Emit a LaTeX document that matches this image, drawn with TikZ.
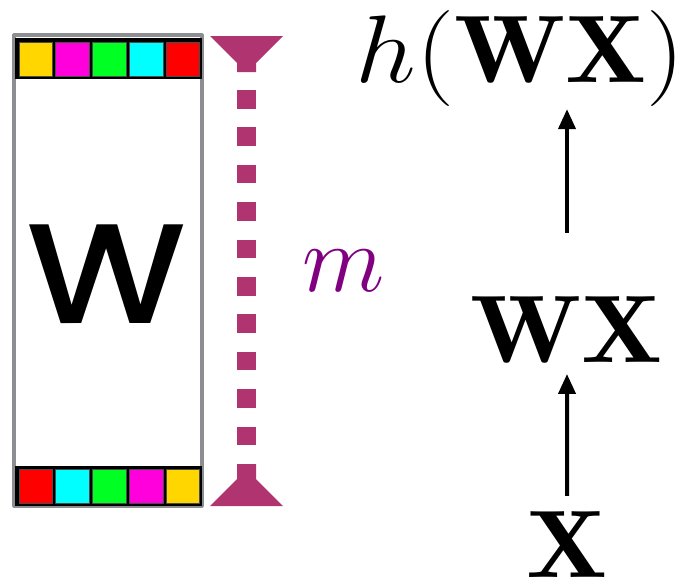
\RequirePackage{fix-cm}
\documentclass[tikz,border=0pt]{standalone}
\usepackage{fontspec}
\usetikzlibrary{arrows.meta}
\newfontfamily\wfont{Poppins Medium}
\begin{document}
\begin{tikzpicture}[x=1pt,y=-1pt,line join=round]
	\definecolor{boxgrey}{RGB}{140,142,146}
	\definecolor{dimpink}{RGB}{176,52,112}
	\definecolor{mpurple}{RGB}{128,0,128}
	\definecolor{cellyellow}{RGB}{255,214,0}
	\definecolor{cellmagenta}{RGB}{255,0,221}
	\definecolor{cellgreen}{RGB}{0,255,34}
	\definecolor{cellcyan}{RGB}{0,255,255}
	\definecolor{cellred}{RGB}{255,0,0}
	\tikzset{
		cell/.style={draw=black!70,line width=.8},
		lbl/.style={inner sep=0,anchor=base,font=\fontsize{96}{96}\selectfont},
		wide/.style={lbl,xscale=1.12},
		up/.style={line width=4,-{Triangle[width=17,length=20]}}
	}
	\useasboundingbox (0,0) rectangle (684,584);
	
	% the matrix W
	\draw[boxgrey,line width=3.2] (14,35) rectangle (202,506);
	\fill (15,38) rectangle (202,79);
	\fill (15,466) rectangle (202,506);
	\foreach \c [count=\i from 0] in {cellyellow,cellmagenta,cellgreen,cellcyan,cellred}{
		\path[fill=\c,cell] (19+36.8*\i,42) rectangle ++(33.5,34);
	}
	\foreach \c [count=\i from 0] in {cellred,cellcyan,cellgreen,cellmagenta,cellyellow}{
		\path[fill=\c,cell] (19+36.8*\i,469) rectangle ++(33.5,34);
	}
	\node[inner sep=0,anchor=base,xscale=1.13,font=\wfont\fontsize{142}{142}\selectfont] (W) at (107,323) {W};
	
	% height m
	\fill[dimpink] (210,36)--(283,36)--(256,63)--(256,72)--(237,72)--(237,63)--cycle;
	\foreach \k in {0,...,9}{
		\fill[dimpink] (237,90+37.4*\k) rectangle ++(18.5,18.5);
	}
	\fill[dimpink] (210,506)--(283,506)--(256,479)--(256,464)--(237,464)--(237,479)--cycle;
	\node[lbl,text=mpurple] (m) at (344,291) {$m$};
	
	% X -> WX -> h(WX)
	\node[wide] (hWX) at (520,82) {$h(\mathbf{WX})$};
	\node[wide] (WX) at (567,362) {$\mathbf{WX}$};
	\node[wide] (X) at (567,577) {$\mathbf{X}$};
	\draw[up,shorten <=15,shorten >=11] (X) -- (WX);
	\draw[up,shorten <=63,shorten >=3] (WX.north) -- (WX.north |- hWX.south);
\end{tikzpicture}
\end{document}
